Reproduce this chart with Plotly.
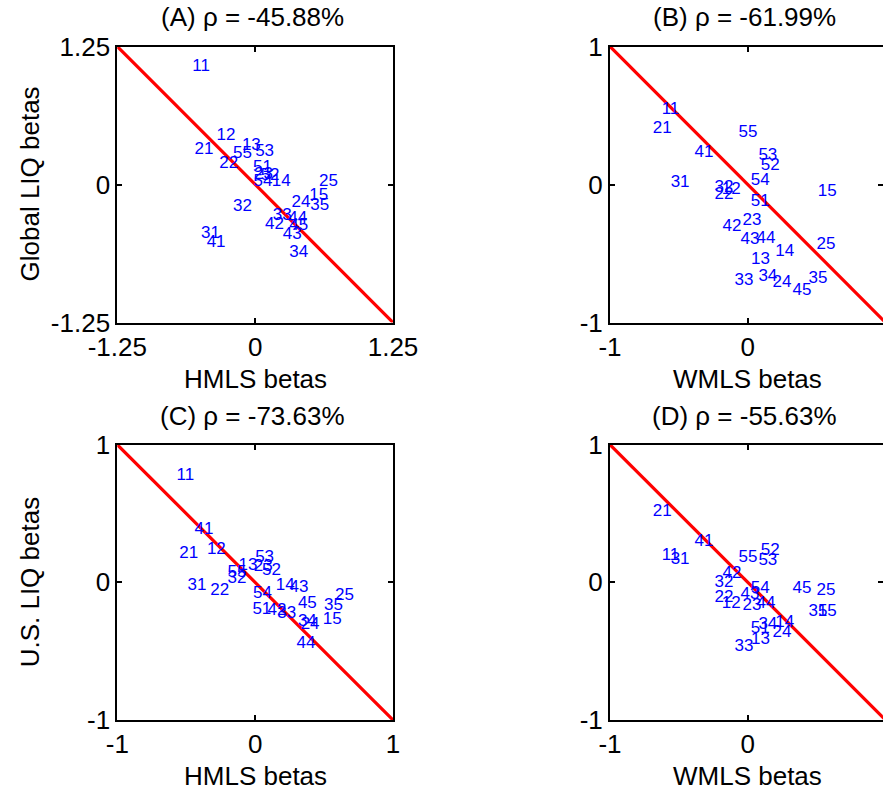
import plotly.graph_objects as go

labels = ['11','12','13','14','15','21','22','23','24','25','31','32','33','34','35',
          '41','42','43','44','45','51','52','53','54','55']

hmls_betas = [-0.57, -0.35, -0.12, 0.15, 0.49, -0.55, -0.325, -0.01, 0.33, 0.58,
              -0.49, -0.20, 0.16, 0.31, 0.50, -0.44, 0.09, 0.25, 0.30, 0.31,
              -0.02, 0.05, 0.00, -0.015, -0.20]
wmls_betas = [-0.625, -0.189, 0.024, 0.199, 0.508, -0.69, -0.242, -0.039, 0.179, 0.499,
              -0.56, -0.242, -0.097, 0.077, 0.44, -0.387, -0.184, -0.053, 0.063, 0.324,
              0.022, 0.094, 0.077, 0.022, -0.068]

global_liq_hmls = [1.063, 0.44, 0.355, 0.025, -0.10, 0.319, 0.184, 0.09, -0.166, 0.024,
                   -0.449, -0.202, -0.283, -0.617, -0.193, -0.527, -0.367, -0.458, -0.313, -0.373,
                   0.15, 0.08, 0.30, 0.024, 0.28]
global_liq_wmls = [0.54, -0.041, -0.545, -0.489, -0.056, 0.407, -0.073, -0.262, -0.714, -0.436,
                   0.012, -0.024, -0.695, -0.666, -0.683, 0.23, -0.303, -0.40, -0.395, -0.768,
                   -0.128, 0.133, 0.206, 0.029, 0.375]
us_liq_hmls = [0.772, 0.235, 0.119, -0.024, -0.274, 0.206, -0.06, 0.11, -0.305, -0.097,
               -0.024, 0.029, -0.225, -0.286, -0.17, 0.38, -0.21, -0.039, -0.443, -0.153,
               -0.2, 0.082, 0.182, -0.085, 0.07]
us_liq_wmls = [0.191, -0.157, -0.414, -0.293, -0.213, 0.513, -0.109, -0.17, -0.363, -0.06,
               0.162, 0.0, -0.467, -0.31, -0.213, 0.295, 0.065, -0.092, -0.157, -0.044,
               -0.334, 0.23, 0.157, -0.05, 0.18]

titles = ['(A) ρ = -45.88%', '(B) ρ = -61.99%', '(C) ρ = -73.63%', '(D) ρ = -55.63%']
xlabels = ['HMLS betas', 'WMLS betas', 'HMLS betas', 'WMLS betas']
ylabels = ['Global LIQ betas', 'U.S. LIQ betas']
limits = [1.25, 1.0, 1.0, 1.0]
tick_text = [['-1.25', '0', '1.25'], ['-1', '0', '1'], ['-1', '0', '1'], ['-1', '0', '1']]

W, H = 883, 792
FONT = 'Liberation Sans, Arial, sans-serif'

panels = [
    (hmls_betas, global_liq_hmls),
    (wmls_betas, global_liq_wmls),
    (hmls_betas, us_liq_hmls),
    (wmls_betas, us_liq_wmls),
]
# pixel boxes in screen coords: left, right, top, bottom
boxes = [(117.3, 393.0, 46.5, 322.5), (610.0, 885.6, 46.5, 322.5),
         (117.3, 393.0, 444.7, 720.0), (610.0, 885.6, 444.7, 720.0)]


def px(v):
    return v / W


def py(v):
    return 1 - v / H


fig = go.Figure()
for i, ((xs, ys), lim) in enumerate(zip(panels, limits)):
    ax = '' if i == 0 else str(i + 1)
    l, r, t, b = boxes[i]
    rr = min(r, W)
    xmax = -lim + 2 * lim * (rr - l) / (r - l)
    fig.add_trace(go.Scatter(x=[-lim, lim], y=[lim, -lim], mode='lines',
                             line=dict(color='#ff0000', width=3.2),
                             xaxis='x' + ax, yaxis='y' + ax, showlegend=False,
                             hoverinfo='skip'))
    fig.add_trace(go.Scatter(x=xs, y=ys, text=labels, mode='text',
                             textposition='middle right',
                             textfont=dict(color='#0000ff', size=17, family=FONT),
                             xaxis='x' + ax, yaxis='y' + ax, showlegend=False))
    common = dict(showline=True, linecolor='black', linewidth=2, mirror='ticks',
                  ticks='inside', ticklen=5, tickwidth=2, tickcolor='black',
                  showgrid=False, zeroline=False, automargin=False,
                  tickvals=[-lim, 0, lim], ticktext=tick_text[i],
                  tickfont=dict(size=26, family=FONT, color='black'))
    fig.update_layout(**{
        'xaxis' + ax: dict(domain=[px(l), px(rr)], range=[-lim, xmax],
                           anchor='y' + ax, **common),
        'yaxis' + ax: dict(domain=[py(b), py(t)], range=[-lim, lim],
                           anchor='x' + ax, **common),
    })
    cx = (l + r) / 2
    fig.add_annotation(text=titles[i], x=px(cx - 3), y=py(t - 29),
                       xref='paper', yref='paper', xanchor='center', yanchor='middle',
                       showarrow=False, font=dict(size=26, family=FONT, color='black'))
    fig.add_annotation(text=xlabels[i], x=px(cx), y=py(b + 56),
                       xref='paper', yref='paper', xanchor='center', yanchor='middle',
                       showarrow=False, font=dict(size=26, family=FONT, color='black'))

for j, yl in enumerate(ylabels):
    t, b = boxes[2 * j][2], boxes[2 * j][3]
    fig.add_annotation(text=yl, x=px(30), y=py((t + b) / 2),
                       xref='paper', yref='paper', xanchor='center', yanchor='middle',
                       textangle=-90, showarrow=False,
                       font=dict(size=26, family=FONT, color='black'))

fig.update_layout(width=W, height=H, margin=dict(l=0, r=0, t=0, b=0, autoexpand=False),
                  paper_bgcolor='white', plot_bgcolor='white', template='none',
                  font=dict(family=FONT), hovermode=False)
fig.write_html('out.html', config={'displayModeBar': False},
               post_script="document.body.style.margin='0';document.body.style.overflow='hidden';")
